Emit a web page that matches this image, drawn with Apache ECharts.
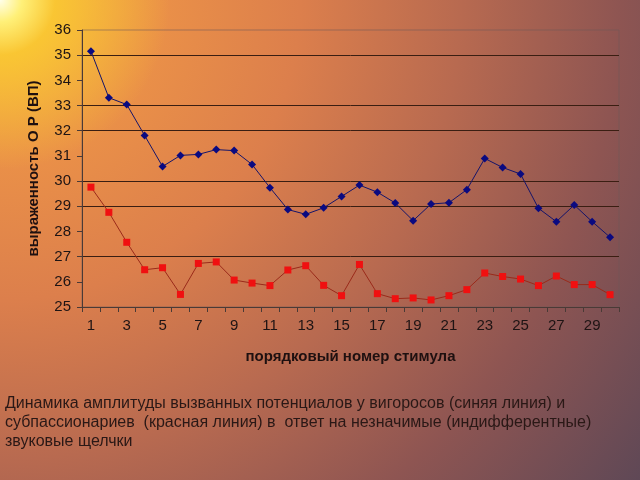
<!DOCTYPE html>
<html><head><meta charset="utf-8">
<script src="https://cdn.jsdelivr.net/npm/echarts@6/dist/echarts.min.js"></script>
<style>
html,body{margin:0;padding:0;width:640px;height:480px;overflow:hidden;}
body{background:
 radial-gradient(circle at 0px 0px, rgba(255,255,235,1) 0px, rgba(255,240,120,1) 22px, rgba(250,200,50,0.95) 55px, rgba(245,170,60,0) 170px),
 radial-gradient(circle at 0px 0px, #f2a448 0px, #ea9048 160px, #dc7f4c 300px, #b86a50 460px, #8e5552 620px, #5f4856 800px);}
#c{width:640px;height:480px;}
#cap{position:absolute;left:5px;top:393px;width:635px;font-family:"Liberation Sans",Arial,sans-serif;font-size:16px;line-height:19px;color:#2a1816;white-space:nowrap;}
</style></head>
<body>
<div id="c"></div>
<div id="cap">Динамика амплитуды вызванных потенциалов у вигоросов (синяя линия) и<br>субпассионариев&nbsp; (красная линия) в&nbsp; ответ на незначимые (индифферентные)<br>звуковые щелчки</div>
<script>
var categories = ['1','2','3','4','5','6','7','8','9','10','11','12','13','14','15','16','17','18','19','20','21','22','23','24','25','26','27','28','29','30'];
var blueValues = [35.16,33.31,33.04,31.81,30.58,31.02,31.06,31.25,31.21,30.66,29.74,28.87,28.68,28.94,29.39,29.84,29.56,29.13,28.43,29.09,29.14,29.66,30.90,30.54,30.28,28.92,28.39,29.05,28.39,27.77];
var redValues = [29.76,28.76,27.57,26.48,26.56,25.50,26.73,26.79,26.07,25.95,25.85,26.47,26.64,25.86,25.45,26.69,25.53,25.33,25.36,25.28,25.45,25.69,26.35,26.21,26.11,25.85,26.23,25.89,25.89,25.49];
var yTicks = [25,26,27,28,29,30,31,32,33,34,35,36];
var xName = 'порядковый номер стимула';
var yName = 'выраженность О Р (ВП)';

var gridColors = ['rgba(0,0,0,0)','rgba(0,0,0,0)','#3a1e12','rgba(0,0,0,0)','#3a1e12','#3a1e12','rgba(0,0,0,0)','#3a1e12','#3a1e12','rgba(0,0,0,0)','#3a1e12','rgba(0,0,0,0)'];
var font = '"Liberation Sans", Arial, sans-serif';
var chart = echarts.init(document.getElementById('c'));
chart.setOption({
  backgroundColor: 'transparent',
  animation: false,
  grid: {left: 82, right: 21, top: 30, bottom: 173, show: true, borderColor: 'rgba(110,90,90,0.55)', borderWidth: 1},
  xAxis: {
    type: 'category', data: categories, boundaryGap: true,
    name: xName, nameLocation: 'middle', nameGap: 42,
    nameTextStyle: {fontFamily: font, fontSize: 15, fontWeight: 'bold', color: '#1e1010'},
    axisLine: {lineStyle: {color: '#4a3a36', width: 1}},
    axisTick: {show: true, interval: 0, length: 5, lineStyle: {color: '#4a3a36'}},
    axisLabel: {interval: 1, fontFamily: font, fontSize: 15, color: '#1e1414', margin: 11},
    splitLine: {show: false}
  },
  yAxis: {
    type: 'value', min: yTicks[0], max: yTicks[yTicks.length-1], interval: 1,
    name: yName, nameLocation: 'middle', nameGap: 41, nameRotate: 90,
    nameTextStyle: {fontFamily: font, fontSize: 15, fontWeight: 'bold', color: '#1e1010'},
    axisLine: {show: true, lineStyle: {color: '#4a3a36', width: 1}},
    axisTick: {show: true, length: 5, lineStyle: {color: '#4a3a36'}},
    axisLabel: {fontFamily: font, fontSize: 15, color: '#1e1414', margin: 11},
    splitLine: {show: true, lineStyle: {color: gridColors, width: 1}}
  },
  series: [
    {type: 'line', data: blueValues, symbol: 'diamond', symbolSize: 8,
     lineStyle: {color: '#14146a', width: 1}, itemStyle: {color: '#0a0a80'}},
    {type: 'line', data: redValues, symbol: 'rect', symbolSize: 7,
     lineStyle: {color: '#9a2a1a', width: 1}, itemStyle: {color: '#f01010'}}
  ]
});
</script>
</body></html>
